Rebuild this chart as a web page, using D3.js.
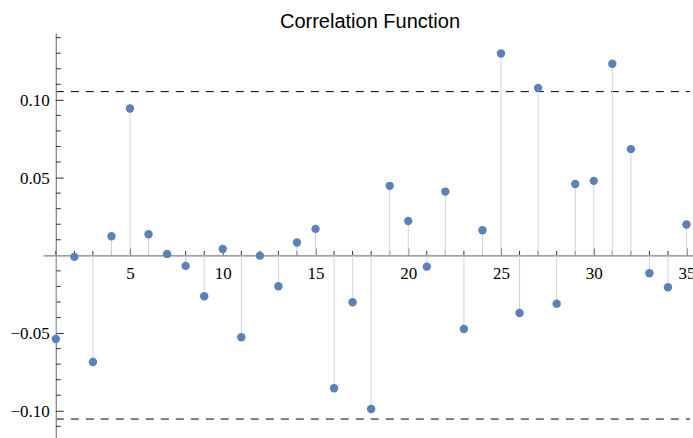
<!DOCTYPE html>
<meta charset="utf-8">
<style>

body { margin: 0; }

.title {
  font-family: "Liberation Sans", Arial, sans-serif;
  font-size: 20px;
}

.axis text {
  font-family: "Liberation Serif", "Times New Roman", serif;
  font-size: 17px;
  fill: #000;
}

.axis path {
  stroke: #808080;
  stroke-width: 1.2;
}

.axis line {
  stroke: #333;
}

.band {
  stroke: #000;
  stroke-dasharray: 8,7;
}

.stem {
  stroke: #c9d5e8;
  stroke-width: 1;
}

.dot {
  fill: #5e81b5;
}

</style>
<svg width="693" height="438"></svg>
<script src="https://cdn.jsdelivr.net/npm/d3@7"></script>
<script>

// lags 1..35
var lags = d3.range(1, 36);

var corr = [
  -0.0538, -0.0010, -0.0686, 0.0123, 0.0944, 0.0136, 0.0009, -0.0068, -0.0263, 0.0041,
  -0.0527, -0.0002, -0.0199, 0.0082, 0.0170, -0.0855, -0.0302, -0.0988, 0.0447, 0.0221,
  -0.0073, 0.0410, -0.0474, 0.0161, 0.1298, -0.0371, 0.1077, -0.0311, 0.0459, 0.0479,
  0.1232, 0.0683, -0.0115, -0.0205, 0.0198
];

// significance band
var bound = [0.1053, -0.1053];

var xTicks = [5, 10, 15, 20, 25, 30, 35];
var yTicks = [-0.10, -0.05, 0.05, 0.10];

var svg = d3.select("svg"),
    width = +svg.attr("width"),
    height = +svg.attr("height");

var x = d3.scaleLinear()
    .domain([0.31, 35.35])
    .range([43, 693]);

var y = d3.scaleLinear()
    .domain([-0.1175, 0.143])
    .range([438, 33]);

svg.append("text")
    .attr("class", "title")
    .attr("x", 370)
    .attr("y", 28)
    .attr("text-anchor", "middle")
    .text("Correlation Function");

// dashed bounds
svg.selectAll(".band")
  .data(bound)
  .enter().append("line")
    .attr("class", "band")
    .attr("x1", x(1))
    .attr("x2", 690)
    .attr("y1", function(d) { return y(d); })
    .attr("y2", function(d) { return y(d); });

// minor ticks (drawn by hand, axis gives the major ones)
var xMinor = lags.filter(function(d) { return d % 5 != 0; });
var yMinor = d3.range(-11, 15).map(function(d) { return d / 100; })
    .filter(function(d) { return Math.round(d * 100) % 5 != 0; });

// x axis
var gx = svg.append("g")
    .attr("class", "axis")
    .attr("transform", "translate(0," + y(0) + ")");

gx.call(d3.axisBottom(x)
      .tickValues(xTicks)
      .tickSize(-7)
      .tickPadding(12)
      .tickSizeOuter(0)
      .tickFormat(d3.format("d")));

gx.selectAll(".tick text").attr("dy", "0.71em");

gx.selectAll(".minor")
  .data(xMinor)
  .enter().append("line")
    .attr("class", "minor")
    .attr("x1", function(d) { return x(d); })
    .attr("x2", function(d) { return x(d); })
    .attr("y1", 0)
    .attr("y2", -4.5);

// y axis
var gy = svg.append("g")
    .attr("class", "axis")
    .attr("transform", "translate(" + x(1) + ",0)");

gy.call(d3.axisLeft(y)
      .tickValues(yTicks)
      .tickSize(-8)
      .tickPadding(-2)
      .tickSizeOuter(0)
      .tickFormat(function(d) { return d3.format(".2f")(d).replace("-", "\u2212"); }));

gy.selectAll(".tick text").attr("x", -6).attr("dy", "0.32em");

gy.selectAll(".minor")
  .data(yMinor)
  .enter().append("line")
    .attr("class", "minor")
    .attr("x1", 0)
    .attr("x2", 5)
    .attr("y1", function(d) { return y(d); })
    .attr("y2", function(d) { return y(d); });

// stems and points
svg.append("g").selectAll("line")
  .data(corr)
  .enter().append("line")
    .attr("class", "stem")
    .attr("x1", function(d, i) { return x(lags[i]); })
    .attr("x2", function(d, i) { return x(lags[i]); })
    .attr("y1", y(0))
    .attr("y2", function(d) { return y(d); });

svg.append("g").selectAll("circle")
  .data(corr)
  .enter().append("circle")
    .attr("class", "dot")
    .attr("cx", function(d, i) { return x(lags[i]); })
    .attr("cy", function(d) { return y(d); })
    .attr("r", 4.2);

</script>
